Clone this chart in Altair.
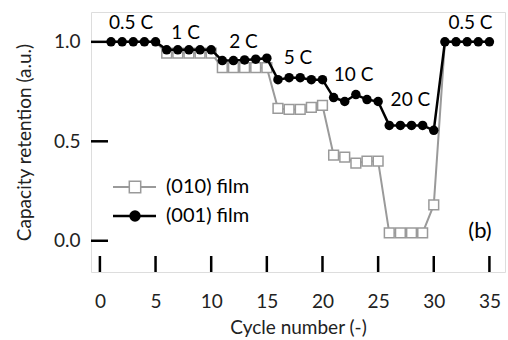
import altair as alt
import pandas as pd

cycles = list(range(1, 36))
film_001 = [1.0, 1.0, 1.0, 1.0, 1.0,
            0.96, 0.96, 0.96, 0.96, 0.96,
            0.906, 0.906, 0.909, 0.913, 0.918,
            0.81, 0.82, 0.82, 0.81, 0.81,
            0.72, 0.70, 0.735, 0.71, 0.70,
            0.58, 0.58, 0.58, 0.58, 0.555,
            1.0, 1.0, 1.0, 1.0, 1.0]
film_010 = [1.0, 1.0, 1.0, 1.0, 1.0,
            0.943, 0.943, 0.943, 0.943, 0.943,
            0.87, 0.87, 0.87, 0.87, 0.87,
            0.665, 0.66, 0.66, 0.67, 0.68,
            0.43, 0.42, 0.39, 0.40, 0.40,
            0.04, 0.04, 0.04, 0.04, 0.18,
            1.0, 1.0, 1.0, 1.0, 1.0]

rate_labels = ["0.5 C", "1 C", "2 C", "5 C", "10 C", "20 C", "0.5 C"]
rate_x = [2.8, 7.7, 12.9, 17.8, 22.8, 27.9, 33.3]
rate_y = [1.096, 1.045, 1.0, 0.92, 0.833, 0.71, 1.096]

x_ticks = [0, 5, 10, 15, 20, 25, 30, 35]
y_ticks = [0.0, 0.5, 1.0]
series_names = ["(010) film", "(001) film"]

FONT = "Lato"
FS = 19
W, H = 414, 260

df010 = pd.DataFrame({"cycle": cycles, "val": film_010})
df001 = pd.DataFrame({"cycle": cycles, "val": film_001})
dflab = pd.DataFrame({"x": rate_x, "y": rate_y, "t": rate_labels})

xs = alt.Scale(domain=[-0.8, 36.4], nice=False, zero=False)
ys = alt.Scale(domain=[-0.157, 1.15], nice=False, zero=False)

xenc = alt.X("cycle:Q", scale=xs,
             axis=alt.Axis(values=x_ticks, title="Cycle number (-)", domain=False,
                           ticks=False, grid=False, labelPadding=20,
                           labelFontSize=FS, titleFontSize=FS, titlePadding=7,
                           labelFont=FONT, titleFont=FONT, titleFontWeight="normal",
                           labelColor="#222", titleColor="#222"))
yenc = alt.Y("val:Q", scale=ys,
             axis=alt.Axis(values=y_ticks, format=".1f", title="Capacity retention (a.u.)",
                           domain=False, ticks=False, grid=False, labelPadding=11,
                           labelFontSize=FS, titleFontSize=FS, titlePadding=19,
                           labelFont=FONT, titleFont=FONT, titleFontWeight="normal",
                           labelColor="#222", titleColor="#222"))

grey = "#9a9a9a"

l010 = alt.Chart(df010).mark_line(color=grey, strokeWidth=2).encode(x=xenc, y=yenc)
p010 = alt.Chart(df010).transform_filter(
    (alt.datum.cycle >= 6) & (alt.datum.cycle <= 30)
).mark_point(shape="square", filled=True, fill="white",
             stroke=grey, strokeWidth=1.5, size=95, opacity=1).encode(
    x=alt.X("cycle:Q", scale=xs), y=alt.Y("val:Q", scale=ys))
l001 = alt.Chart(df001).mark_line(color="black", strokeWidth=2.5).encode(
    x=alt.X("cycle:Q", scale=xs), y=alt.Y("val:Q", scale=ys))
p001 = alt.Chart(df001).mark_circle(color="black", size=90, opacity=1).encode(
    x=alt.X("cycle:Q", scale=xs), y=alt.Y("val:Q", scale=ys))

labels = alt.Chart(dflab).mark_text(font=FONT, fontSize=FS, color="black",
                                    align="center", baseline="middle").encode(
    x=alt.X("x:Q", scale=xs), y=alt.Y("y:Q", scale=ys), text="t:N")

xt = alt.Chart(pd.DataFrame({"t": x_ticks})).mark_rule(color="black", strokeWidth=2.5).encode(
    x=alt.X("t:Q", scale=xs), y=alt.value(H - 16), y2=alt.value(H))
yt = alt.Chart(pd.DataFrame({"t": y_ticks})).mark_rule(color="black", strokeWidth=2.5).encode(
    y=alt.Y("t:Q", scale=ys), x=alt.value(0), x2=alt.value(17))

b = alt.Chart(pd.DataFrame({"t": ["(b)"]})).mark_text(font=FONT, fontSize=22, color="black",
                                                   align="center", baseline="middle").encode(
    text="t:N", x=alt.value(389), y=alt.value(219))

# legend
leg_rows_y = [175, 204]
lg_l1 = alt.Chart(pd.DataFrame({"n": [series_names[0]]})).mark_rule(color=grey, strokeWidth=2).encode(
    x=alt.value(22), x2=alt.value(65), y=alt.value(leg_rows_y[0]))
lg_p1 = alt.Chart(pd.DataFrame({"n": [series_names[0]]})).mark_point(
    shape="square", filled=True, fill="white", stroke=grey, strokeWidth=1.5, size=130, opacity=1).encode(
    x=alt.value(44), y=alt.value(leg_rows_y[0]))
lg_t1 = alt.Chart(pd.DataFrame({"n": [series_names[0]]})).mark_text(
    font=FONT, fontSize=20, align="left", baseline="middle", color="black").encode(
    text="n:N", x=alt.value(75), y=alt.value(leg_rows_y[0]))
lg_l2 = alt.Chart(pd.DataFrame({"n": [series_names[1]]})).mark_rule(color="black", strokeWidth=2.5).encode(
    x=alt.value(22), x2=alt.value(65), y=alt.value(leg_rows_y[1]))
lg_p2 = alt.Chart(pd.DataFrame({"n": [series_names[1]]})).mark_circle(
    color="black", size=130, opacity=1).encode(x=alt.value(44), y=alt.value(leg_rows_y[1]))
lg_t2 = alt.Chart(pd.DataFrame({"n": [series_names[1]]})).mark_text(
    font=FONT, fontSize=20, align="left", baseline="middle", color="black").encode(
    text="n:N", x=alt.value(75), y=alt.value(leg_rows_y[1]))

chart = alt.layer(l010, p010, l001, p001, labels, xt, yt, b,
                  lg_l1, lg_p1, lg_t1, lg_l2, lg_p2, lg_t2).properties(
    width=W, height=H,
    autosize=alt.AutoSizeParams(type="none"),
    padding={"left": 91, "top": 12, "right": 3, "bottom": 68},
).configure_view(stroke="black", strokeWidth=3).configure(background="white")

chart.save("out.html", embed_options={"renderer": "svg", "actions": False})
